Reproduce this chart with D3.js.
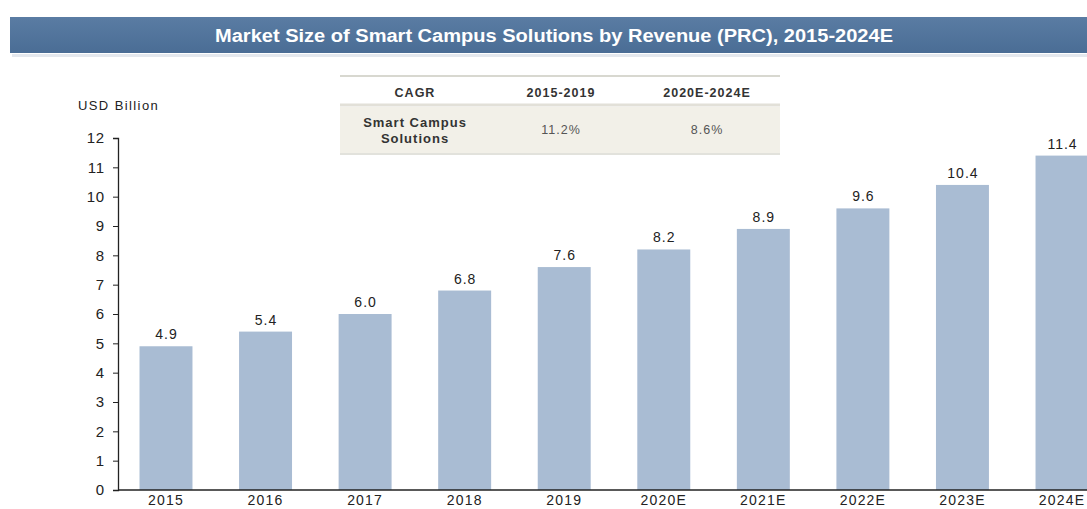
<!DOCTYPE html>
<html>
<head>
<meta charset="utf-8">
<script src="https://cdn.jsdelivr.net/npm/d3@7"></script>
<style>
  body { margin: 0; background: #fff; }
  svg { display: block; font-family: Arial, "Liberation Sans", sans-serif; }
</style>
</head>
<body>
<div id="chart"></div>
<script>
// chart data
const years = ["2015", "2016", "2017", "2018", "2019", "2020E", "2021E", "2022E", "2023E", "2024E"];
const revenue = [4.9, 5.4, 6.0, 6.8, 7.6, 8.2, 8.9, 9.6, 10.4, 11.4];
const yTicks = [0, 1, 2, 3, 4, 5, 6, 7, 8, 9, 10, 11, 12];
const cagrHeader = ["CAGR", "2015-2019", "2020E-2024E"];
const cagrRow = ["Smart Campus|Solutions", "11.2%", "8.6%"];
const title = "Market Size of  Smart Campus Solutions by Revenue (PRC), 2015-2024E";
const unit = "USD Billion";

const width = 1087, height = 509;
const font = "Arial, 'Liberation Sans', sans-serif";

const svg = d3.select("#chart")
  .append("svg")
  .attr("width", width)
  .attr("height", height);

// title banner
const defs = svg.append("defs");
const grad = defs.append("linearGradient")
  .attr("id", "banner").attr("x1", 0).attr("y1", 0).attr("x2", 0).attr("y2", 1);
grad.append("stop").attr("offset", "0%").attr("stop-color", "#5a7ca3");
grad.append("stop").attr("offset", "100%").attr("stop-color", "#4a6d95");

svg.append("rect")
  .attr("x", 12).attr("y", 54)
  .attr("width", width - 12).attr("height", 3)
  .attr("fill", "#e4e8ee");
svg.append("rect")
  .attr("x", 10).attr("y", 17)
  .attr("width", width - 10).attr("height", 36)
  .attr("fill", "url(#banner)");

svg.append("text")
  .attr("x", 554).attr("y", 42)
  .attr("text-anchor", "middle")
  .attr("fill", "#fff")
  .attr("font-size", 18)
  .attr("font-weight", "bold")
  .attr("textLength", 678)
  .attr("lengthAdjust", "spacingAndGlyphs")
  .text(title);

// scales
const x = d3.scaleBand()
  .domain(years)
  .range([118, 1110])
  .paddingInner(0.468)
  .paddingOuter(0.216);

const y = d3.scaleLinear()
  .domain([0, 12])
  .range([490, 138]);

// bars
svg.selectAll("rect.bar")
  .data(revenue)
  .enter()
  .append("rect")
  .attr("class", "bar")
  .attr("x", (d, i) => x(years[i]))
  .attr("y", d => y(d))
  .attr("width", x.bandwidth())
  .attr("height", d => y(0) - y(d))
  .attr("fill", "#a9bcd3");

// value labels
svg.selectAll("text.val")
  .data(revenue)
  .enter()
  .append("text")
  .attr("class", "val")
  .attr("x", (d, i) => x(years[i]) + x.bandwidth() / 2 + 0.5)
  .attr("y", d => y(d) - 7)
  .attr("text-anchor", "middle")
  .attr("font-size", 14)
  .attr("letter-spacing", 1)
  .attr("fill", "#222")
  .text(d => d.toFixed(1));

// axes
const yAxis = d3.axisLeft(y).tickValues(yTicks).tickSize(5).tickPadding(8);
const gy = svg.append("g")
  .attr("transform", "translate(118,0)")
  .call(yAxis);
gy.select(".domain").attr("stroke", "#222").attr("stroke-width", 1.3);
gy.selectAll(".tick line").attr("stroke", "#222");
gy.selectAll(".tick text").attr("font-size", 15).attr("letter-spacing", 0.8)
  .attr("fill", "#222").attr("font-family", font);

const xAxis = d3.axisBottom(x).tickSize(0).tickPadding(5);
const gx = svg.append("g")
  .attr("transform", "translate(0,490)")
  .call(xAxis);
gx.select(".domain").attr("stroke", "#222").attr("stroke-width", 1.3).attr("d", "M118,0H" + width);
gx.selectAll(".tick text").attr("font-size", 14).attr("letter-spacing", 1.2)
  .attr("fill", "#222").attr("font-family", font);

svg.append("text")
  .attr("x", 78).attr("y", 110)
  .attr("font-size", 13)
  .attr("letter-spacing", 1.4)
  .attr("fill", "#222")
  .text(unit);

// CAGR table
const colX = [415, 561, 707];
svg.append("rect")
  .attr("x", 340).attr("y", 107)
  .attr("width", 440).attr("height", 46)
  .attr("fill", "#f2f0e8");
svg.append("line").attr("x1", 340).attr("x2", 780).attr("y1", 76).attr("y2", 76)
  .attr("stroke", "#d8d8d0").attr("stroke-width", 2);
svg.append("line").attr("x1", 340).attr("x2", 780).attr("y1", 105).attr("y2", 105)
  .attr("stroke", "#e2e0d8").attr("stroke-width", 3);
svg.append("line").attr("x1", 340).attr("x2", 780).attr("y1", 154).attr("y2", 154)
  .attr("stroke", "#d8d8d0").attr("stroke-width", 1.5);

svg.selectAll("text.hdr")
  .data(cagrHeader)
  .enter()
  .append("text")
  .attr("class", "hdr")
  .attr("x", (d, i) => colX[i])
  .attr("y", 97)
  .attr("text-anchor", "middle")
  .attr("font-size", 12.5)
  .attr("letter-spacing", 1)
  .attr("font-weight", "bold")
  .attr("fill", "#333")
  .text(d => d);

cagrRow.forEach((d, i) => {
  const lines = d.split("|");
  const t = svg.append("text")
    .attr("text-anchor", "middle")
    .attr("font-size", i == 0 ? 13 : 12.5)
    .attr("letter-spacing", 1)
    .attr("font-weight", i == 0 ? "bold" : "normal")
    .attr("fill", i == 0 ? "#333" : "#555");
  if (lines.length > 1) {
    lines.forEach((s, k) => {
      t.append("tspan").attr("x", colX[i]).attr("y", 127 + k * 16).text(s);
    });
  } else {
    t.attr("x", colX[i]).attr("y", 134).text(d);
  }
});
</script>
</body>
</html>
